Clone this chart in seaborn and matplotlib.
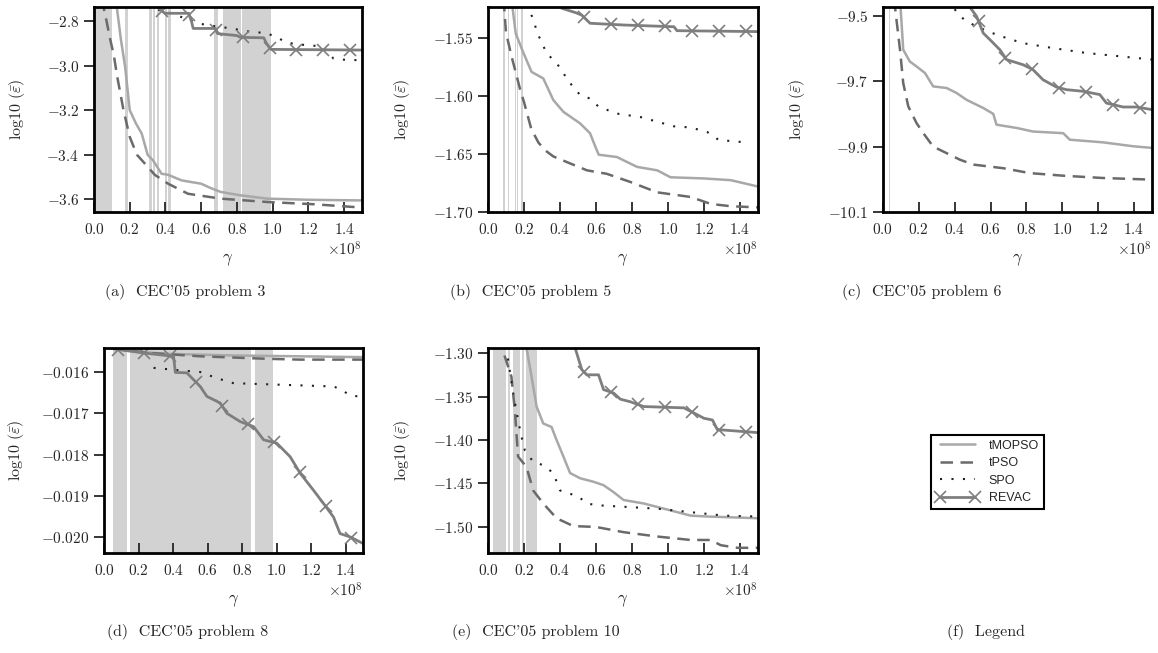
import numpy as np
import matplotlib
matplotlib.use('Agg')
import matplotlib.pyplot as plt
from matplotlib.lines import Line2D
import seaborn as sns

# gamma values below are in units of 1e8
GAMMA = 1e8

x_ticks = [0.0, 0.2, 0.4, 0.6, 0.8, 1.0, 1.2, 1.4]
revac_mark_x = [0.083, 0.233, 0.383, 0.533, 0.683, 0.833, 0.983, 1.133, 1.283, 1.433]
series_names = ['tMOPSO', 'tPSO', 'SPO', 'REVAC']

# (a) CEC'05 problem 3
p3_tmopso_x = [0.12, 0.128, 0.15, 0.174, 0.2, 0.235, 0.267, 0.30, 0.33, 0.378, 0.415, 0.49, 0.6, 0.655, 0.71, 0.82, 0.97, 1.2, 1.5]
p3_tmopso_y = [-2.70, -2.74, -2.88, -3.005, -3.20, -3.26, -3.305, -3.40, -3.425, -3.485, -3.49, -3.515, -3.53, -3.55, -3.567, -3.582, -3.597, -3.602, -3.605]
p3_tpso_x = [0.04, 0.054, 0.07, 0.09, 0.11, 0.13, 0.165, 0.2, 0.24, 0.285, 0.34, 0.415, 0.526, 0.71, 0.97, 1.23, 1.5]
p3_tpso_y = [-2.70, -2.74, -2.80, -2.88, -2.95, -3.05, -3.20, -3.32, -3.40, -3.44, -3.49, -3.53, -3.575, -3.597, -3.612, -3.622, -3.637]
p3_spo_x = [0.36, 0.415, 0.5, 0.58, 0.65, 0.77, 0.85, 0.97, 1.035, 1.08, 1.15, 1.25, 1.3, 1.34, 1.42, 1.5]
p3_spo_y = [-2.75, -2.76, -2.785, -2.81, -2.82, -2.833, -2.845, -2.855, -2.878, -2.897, -2.905, -2.912, -2.93, -2.968, -2.975, -2.975]
p3_revac_x = [0.34, 0.36, 0.396, 0.53, 0.545, 0.555, 0.68, 0.69, 0.70, 0.80, 0.82, 0.95, 0.965, 0.99, 1.5]
p3_revac_y = [-2.70, -2.74, -2.765, -2.765, -2.80, -2.833, -2.833, -2.855, -2.857, -2.865, -2.873, -2.875, -2.90, -2.927, -2.93]
p3_bands = [(0.005, 0.10), (0.176, 0.188), (0.31, 0.322), (0.33, 0.34), (0.35, 0.363), (0.40, 0.41), (0.415, 0.433),
            (0.674, 0.693), (0.72, 0.82), (0.83, 0.99)]
p3_yticks = [-3.6, -3.4, -3.2, -3.0, -2.8]

# (b) CEC'05 problem 5
p5_tmopso_x = [0.13, 0.136, 0.154, 0.19, 0.242, 0.307, 0.363, 0.419, 0.512, 0.567, 0.6, 0.615, 0.716, 0.828, 0.94, 1.014, 1.2, 1.349, 1.5]
p5_tmopso_y = [-1.50, -1.523, -1.5457, -1.56, -1.579, -1.5846, -1.6033, -1.6135, -1.6235, -1.632, -1.645, -1.6505, -1.6525, -1.661, -1.664, -1.670, -1.671, -1.6725, -1.678]
p5_tpso_x = [0.08, 0.09, 0.10, 0.13, 0.155, 0.18, 0.2, 0.24, 0.28, 0.32, 0.363, 0.456, 0.55, 0.66, 0.79, 0.94, 1.126, 1.237, 1.349, 1.5]
p5_tpso_y = [-1.50, -1.523, -1.545, -1.565, -1.58, -1.595, -1.605, -1.628, -1.64, -1.647, -1.652, -1.658, -1.664, -1.667, -1.674, -1.683, -1.687, -1.693, -1.695, -1.696]
p5_spo_x = [0.23, 0.242, 0.279, 0.326, 0.372, 0.409, 0.437, 0.474, 0.512, 0.567, 0.614, 0.716, 0.847, 0.94, 1.033, 1.126, 1.219, 1.284, 1.386, 1.451]
p5_spo_y = [-1.52, -1.53, -1.547, -1.563, -1.57, -1.577, -1.585, -1.592, -1.599, -1.602, -1.609, -1.615, -1.618, -1.622, -1.626, -1.627, -1.631, -1.638, -1.639, -1.641]
p5_revac_x = [0.40, 0.409, 0.49, 0.521, 0.567, 0.753, 1.033, 1.05, 1.5]
p5_revac_y = [-1.52, -1.524, -1.528, -1.53, -1.537, -1.5385, -1.540, -1.5434, -1.5442]
p5_bands = [(0.086, 0.092), (0.109, 0.115), (0.148, 0.155), (0.16, 0.168), (0.186, 0.192)]
p5_yticks = [-1.70, -1.65, -1.60, -1.55]

# (c) CEC'05 problem 6
p6_tmopso_x = [0.095, 0.098, 0.113, 0.15, 0.187, 0.234, 0.28, 0.355, 0.41, 0.466, 0.559, 0.615, 0.633, 0.745, 0.837, 1.005, 1.042, 1.227, 1.395, 1.5]
p6_tmopso_y = [-9.40, -9.474, -9.604, -9.64, -9.655, -9.675, -9.716, -9.721, -9.736, -9.757, -9.782, -9.80, -9.833, -9.843, -9.854, -9.859, -9.879, -9.887, -9.899, -9.904]
p6_tpso_x = [0.06, 0.067, 0.095, 0.113, 0.141, 0.187, 0.225, 0.28, 0.336, 0.429, 0.503, 0.67, 0.819, 1.005, 1.227, 1.5]
p6_tpso_y = [-9.40, -9.474, -9.604, -9.706, -9.777, -9.828, -9.859, -9.90, -9.915, -9.94, -9.955, -9.966, -9.981, -9.989, -9.996, -10.001]
p6_spo_x = [0.40, 0.42, 0.466, 0.522, 0.633, 0.689, 0.782, 0.949, 1.135, 1.32, 1.5]
p6_spo_y = [-9.48, -9.497, -9.517, -9.533, -9.558, -9.568, -9.584, -9.599, -9.614, -9.624, -9.634]
p6_revac_x = [0.48, 0.485, 0.522, 0.559, 0.596, 0.652, 0.689, 0.782, 0.837, 0.893, 0.967, 1.023, 1.116, 1.209, 1.246, 1.339, 1.413, 1.5]
p6_revac_y = [-9.45, -9.474, -9.502, -9.553, -9.573, -9.604, -9.634, -9.65, -9.665, -9.696, -9.718, -9.726, -9.731, -9.741, -9.767, -9.779, -9.779, -9.787]
p6_bands = [(0.032, 0.038)]
p6_yticks = [-10.1, -9.9, -9.7, -9.5]

# (d) CEC'05 problem 8
p8_tmopso_x = [0.05, 0.066, 0.172, 0.365, 0.75, 1.136, 1.5]
p8_tmopso_y = [-0.01543, -0.01544, -0.0155, -0.01556, -0.0156, -0.01562, -0.01564]
p8_tpso_x = [0.05, 0.066, 0.268, 0.557, 0.943, 1.136, 1.5]
p8_tpso_y = [-0.01543, -0.01544, -0.01554, -0.01562, -0.01568, -0.0157, -0.0157]
p8_spo_x = [0.287, 0.44, 0.557, 0.654, 0.75, 1.04, 1.33, 1.377, 1.425, 1.5]
p8_spo_y = [-0.0159, -0.01596, -0.016, -0.01615, -0.01627, -0.01631, -0.01635, -0.01643, -0.01657, -0.0166]
p8_revac_x = [0.056, 0.23, 0.403, 0.413, 0.48, 0.557, 0.596, 0.673, 0.712, 0.789, 0.866, 0.924, 1.0, 1.078, 1.136, 1.213, 1.271, 1.329, 1.367, 1.425, 1.5]
p8_revac_y = [-0.01544, -0.01554, -0.01562, -0.01601, -0.01602, -0.01635, -0.01659, -0.01675, -0.017, -0.0172, -0.01732, -0.01764, -0.01772, -0.01805, -0.01845, -0.01886, -0.01918, -0.01951, -0.01991, -0.01999, -0.02015]
p8_bands = [(0.05, 0.135), (0.148, 0.85), (0.875, 0.98)]
p8_yticks = [-0.020, -0.019, -0.018, -0.017, -0.016]

# (e) CEC'05 problem 10
p10_tmopso_x = [0.21, 0.214, 0.242, 0.27, 0.307, 0.353, 0.381, 0.419, 0.456, 0.512, 0.586, 0.642, 0.698, 0.753, 0.865, 0.94, 1.126, 1.219, 1.5]
p10_tmopso_y = [-1.28, -1.294, -1.327, -1.3615, -1.381, -1.385, -1.40, -1.419, -1.438, -1.444, -1.448, -1.452, -1.46, -1.469, -1.473, -1.477, -1.487, -1.488, -1.49]
p10_tpso_x = [0.08, 0.084, 0.13, 0.149, 0.167, 0.214, 0.251, 0.307, 0.381, 0.474, 0.6, 0.753, 0.94, 1.126, 1.237, 1.293, 1.386, 1.5]
p10_tpso_y = [-1.28, -1.298, -1.327, -1.365, -1.419, -1.431, -1.458, -1.473, -1.49, -1.499, -1.50, -1.506, -1.511, -1.515, -1.515, -1.521, -1.524, -1.524]
p10_spo_x = [0.10, 0.112, 0.14, 0.167, 0.186, 0.205, 0.251, 0.307, 0.363, 0.40, 0.502, 0.549, 0.605, 0.94, 1.126, 1.312, 1.5]
p10_spo_y = [-1.28, -1.308, -1.346, -1.377, -1.396, -1.412, -1.425, -1.429, -1.438, -1.458, -1.465, -1.473, -1.475, -1.479, -1.483, -1.487, -1.488]
p10_revac_x = [0.48, 0.484, 0.521, 0.549, 0.614, 0.642, 0.698, 0.735, 0.791, 0.865, 1.088, 1.126, 1.2, 1.247, 1.274, 1.5]
p10_revac_y = [-1.28, -1.294, -1.319, -1.325, -1.325, -1.342, -1.346, -1.353, -1.356, -1.3615, -1.363, -1.367, -1.375, -1.377, -1.388, -1.3915]
p10_bands = [(0.03, 0.10), (0.11, 0.125), (0.14, 0.18), (0.19, 0.20), (0.21, 0.27)]
p10_yticks = [-1.50, -1.45, -1.40, -1.35, -1.30]

captions = ["(a)  CEC'05 problem 3", "(b)  CEC'05 problem 5", "(c)  CEC'05 problem 6",
            "(d)  CEC'05 problem 8", "(e)  CEC'05 problem 10", "(f)  Legend"]

sns.set_style('ticks')
plt.rcParams['font.family'] = 'cmr10'
plt.rcParams['mathtext.fontset'] = 'cm'
plt.rcParams['axes.formatter.use_mathtext'] = True

C_TMOPSO = '#a8a8a8'
C_TPSO = '#6a6a6a'
C_SPO = '#222222'
C_REVAC = '#7e7e7e'
C_BAND = '#d2d2d2'
LS_TPSO = (0, (5, 3))
LS_SPO = (0, (1, 4.5))

panels = [
    # axes rect, runs, bands, yticks, ylim, ylabel x
    ([0.0812, 0.6753, 0.2314, 0.3139],
     [(p3_tmopso_x, p3_tmopso_y), (p3_tpso_x, p3_tpso_y), (p3_spo_x, p3_spo_y), (p3_revac_x, p3_revac_y)],
     p3_bands, p3_yticks, (-3.657, -2.737), -0.25),
    ([0.4214, 0.6753, 0.2332, 0.3139],
     [(p5_tmopso_x, p5_tmopso_y), (p5_tpso_x, p5_tpso_y), (p5_spo_x, p5_spo_y), (p5_revac_x, p5_revac_y)],
     p5_bands, p5_yticks, (-1.700, -1.523), -0.281),
    ([0.7625, 0.6753, 0.2323, 0.3139],
     [(p6_tmopso_x, p6_tmopso_y), (p6_tpso_x, p6_tpso_y), (p6_spo_x, p6_spo_y), (p6_revac_x, p6_revac_y)],
     p6_bands, p6_yticks, (-10.1, -9.4735), -0.283),
    ([0.0898, 0.1531, 0.2237, 0.3139],
     [(p8_tmopso_x, p8_tmopso_y), (p8_tpso_x, p8_tpso_y), (p8_spo_x, p8_spo_y), (p8_revac_x, p8_revac_y)],
     p8_bands, p8_yticks, (-0.02038, -0.01542), -0.30),
    ([0.4214, 0.1531, 0.2332, 0.3139],
     [(p10_tmopso_x, p10_tmopso_y), (p10_tpso_x, p10_tpso_y), (p10_spo_x, p10_spo_y), (p10_revac_x, p10_revac_y)],
     p10_bands, p10_yticks, (-1.53, -1.2942), -0.281),
]

fig = plt.figure(figsize=(11.58, 6.53), dpi=100)

for rect, runs, bands, yticks, ylim, ylab_x in panels:
    ax = fig.add_axes(rect)
    for lo, hi in bands:
        ax.axvspan(lo * GAMMA, hi * GAMMA, color=C_BAND, lw=0, zorder=0)

    (tm_x, tm_y), (tp_x, tp_y), (sp_x, sp_y), (rv_x, rv_y) = runs
    sns.lineplot(x=np.array(tm_x) * GAMMA, y=tm_y, ax=ax, color=C_TMOPSO, linewidth=1.8,
                 estimator=None, sort=False)
    sns.lineplot(x=np.array(tp_x) * GAMMA, y=tp_y, ax=ax, color=C_TPSO, linewidth=1.8,
                 linestyle=LS_TPSO, estimator=None, sort=False)
    sns.lineplot(x=np.array(sp_x) * GAMMA, y=sp_y, ax=ax, color=C_SPO, linewidth=1.5,
                 linestyle=LS_SPO, estimator=None, sort=False)
    sns.lineplot(x=np.array(rv_x) * GAMMA, y=rv_y, ax=ax, color=C_REVAC, linewidth=2.0,
                 estimator=None, sort=False)
    # REVAC markers sit on the line at fixed gamma positions
    mx = np.array([m for m in revac_mark_x if rv_x[0] <= m <= rv_x[-1]])
    my = np.interp(mx, rv_x, rv_y)
    ax.plot(mx * GAMMA, my, linestyle='none', marker='x', ms=9, mew=1.2, color=C_REVAC)

    ax.set_xlim(0, 1.5 * GAMMA)
    ax.set_ylim(*ylim)
    ax.set_xticks([t * GAMMA for t in x_ticks])
    ax.set_yticks(yticks)
    ax.tick_params(axis='x', direction='in', length=7, width=1.3, pad=7, labelsize=11)
    ax.tick_params(axis='y', direction='out', length=7, width=1.3, labelsize=11)
    ax.xaxis.get_offset_text().set_fontsize(11)
    for s in ax.spines.values():
        s.set_linewidth(2.0)
        s.set_color('black')

    ax.set_xlabel(r'$\gamma$', fontsize=12)
    ax.xaxis.set_label_coords(0.5, -0.19)
    ax.set_ylabel(r'$\mathrm{log10}\ (\bar{\varepsilon})$', fontsize=11.5)
    ax.yaxis.set_label_coords(ylab_x, 0.5)

# legend panel
handles = [
    Line2D([], [], color=C_TMOPSO, linewidth=1.8),
    Line2D([], [], color=C_TPSO, linewidth=1.8, linestyle=LS_TPSO),
    Line2D([], [], color=C_SPO, linewidth=1.5, linestyle=LS_SPO),
    Line2D([], [], color=C_REVAC, linewidth=2.0, marker='x', ms=9, mew=1.2),
]
leg = fig.legend(handles, series_names, loc='center', bbox_to_anchor=(0.8528, 0.2772),
                 frameon=True, fancybox=False, framealpha=1, edgecolor='black',
                 handlelength=3.4, labelspacing=0.45, numpoints=2,
                 prop={'family': 'Liberation Sans', 'size': 9})
leg.get_frame().set_linewidth(1.5)

# sub-captions
cap_pos = [(0.160, 0.553), (0.4585, 0.553), (0.796, 0.553),
           (0.162, 0.032), (0.463, 0.032), (0.851, 0.032)]
for (cx, cy), txt in zip(cap_pos, captions):
    fig.text(cx, cy, txt, ha='center', va='center', fontsize=11.5)

fig.savefig('out.png', dpi=100)
